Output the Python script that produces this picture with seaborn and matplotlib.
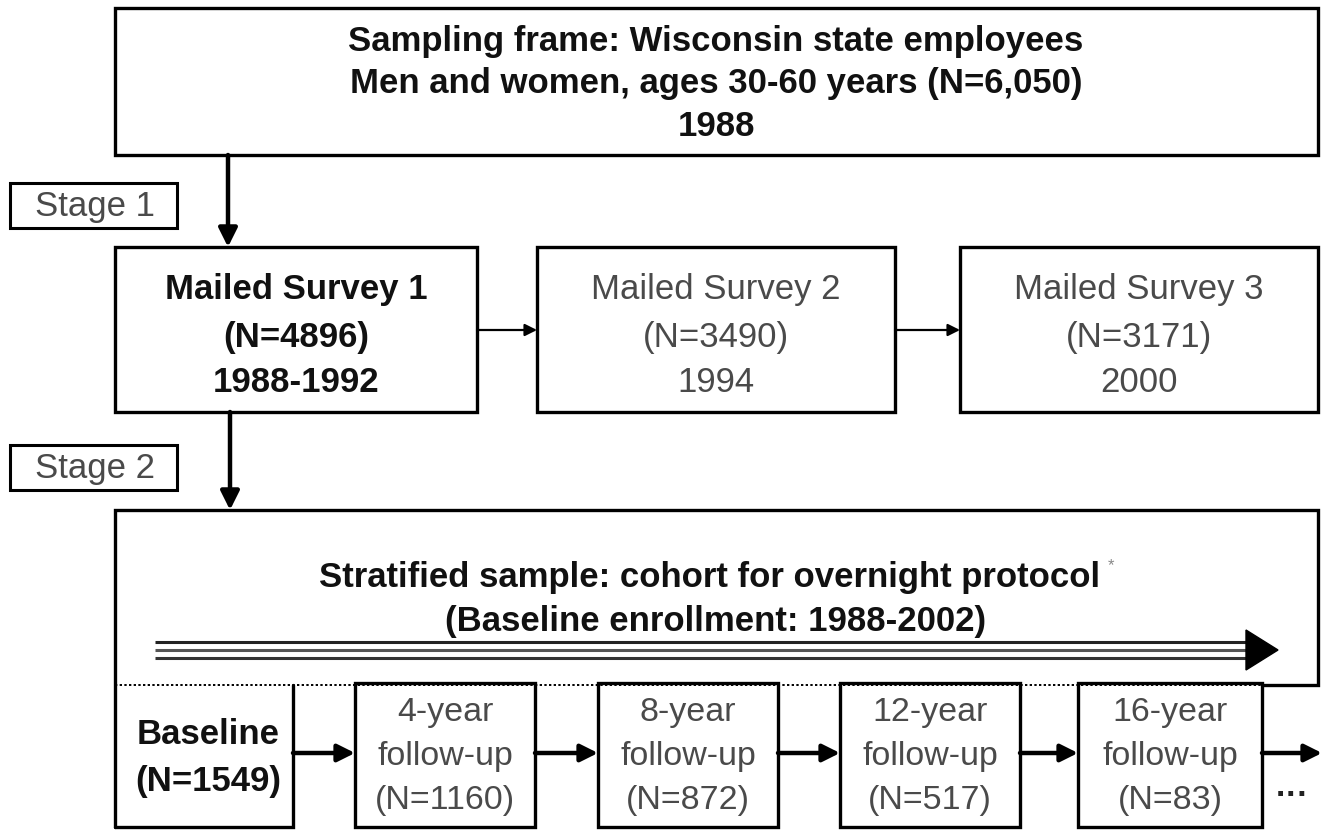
import matplotlib
matplotlib.use("Agg")
import matplotlib.pyplot as plt
import seaborn as sns
from matplotlib.patches import Rectangle, Polygon

# flowchart content
frame_lines = ["Sampling frame: Wisconsin state employees",
               "Men and women, ages 30-60 years (N=6,050)",
               "1988"]
stage_labels = ["Stage 1", "Stage 2"]
survey_names = ["Mailed Survey 1", "Mailed Survey 2", "Mailed Survey 3"]
survey_n = [4896, 3490, 3171]
survey_years = ["1988-1992", "1994", "2000"]
cohort_lines = ["Stratified sample: cohort for overnight protocol",
                "(Baseline enrollment: 1988-2002)"]
visit_labels = ["Baseline", "4-year", "8-year", "12-year", "16-year"]
visit_n = [1549, 1160, 872, 517, 83]

sns.set_theme(style="white")
plt.rcParams["font.family"] = ["Liberation Sans", "DejaVu Sans"]

fig = plt.figure(figsize=(13.29, 8.31), dpi=100)
ax = fig.add_axes([0, 0, 1, 1])
ax.set_xlim(0, 1329)
ax.set_ylim(831, 0)
ax.axis("off")

LW = 2.4
FS = 25
FS_SMALL = 24.5
GRAY = "#4a4a4a"
DARK = "#111111"


def box(x0, y0, x1, y1, lw=LW):
    ax.add_patch(Rectangle((x0, y0), x1 - x0, y1 - y0, fill=False,
                           edgecolor="black", lw=lw, zorder=2))


def arrow(x0, y0, x1, y1, lw=3.2, ms=28):
    ax.annotate("", xy=(x1, y1), xytext=(x0, y0),
                arrowprops=dict(arrowstyle="-|>", lw=lw, color="black",
                                mutation_scale=ms, shrinkA=0, shrinkB=0),
                zorder=3)


# top box
box(115, 8, 1318, 155)
for line, y in zip(frame_lines, [42, 84, 127]):
    ax.text(716, y, line, ha="center", va="center", fontsize=FS,
            fontweight="bold", color=DARK)

# stage boxes
for lab, (y0, y1) in zip(stage_labels, [(183, 228), (445, 490)]):
    box(10, y0, 177, y1, lw=2.2)
    ax.text(95, (y0 + y1) / 2 + 1, lab, ha="center", va="center",
            fontsize=FS, color=GRAY)

arrow(228, 155, 228, 247)
arrow(230, 412, 230, 510)

# mailed surveys
survey_x = [(115, 477), (537, 895), (960, 1318)]
for i, ((x0, x1), name, n, yr) in enumerate(zip(survey_x, survey_names,
                                               survey_n, survey_years)):
    box(x0, 247, x1, 412)
    bold = i == 0
    col = DARK if bold else GRAY
    fw = "bold" if bold else "normal"
    cx = (x0 + x1) / 2
    for txt, y in zip([name, f"(N={n})", yr], [290, 337, 383]):
        ax.text(cx, y, txt, ha="center", va="center", fontsize=FS,
                fontweight=fw, color=col)
    if i > 0:
        arrow(survey_x[i - 1][1], 330, x0, 330, lw=1.6, ms=18)

# cohort box: left, top, right edges
ax.plot([115, 115, 1318, 1318, 1262], [827, 510, 510, 685, 685],
        color="black", lw=LW, solid_joinstyle="miter", zorder=2)
ax.plot([115, 1262], [685, 685], color="black", lw=1.4,
        linestyle=(0, (1.2, 1.2)), zorder=2)
ax.text(710, 578, cohort_lines[0], ha="center", va="center",
        fontsize=FS, fontweight="bold", color=DARK)
ax.text(1111, 566, "*", ha="center", va="center", fontsize=12,
        color="#888888")
ax.text(716, 622, cohort_lines[1], ha="center", va="center",
        fontsize=FS, fontweight="bold", color=DARK)

# triple line time arrow
for y, c in zip([642, 650, 658], ["#222222", "#555555", "#333333"]):
    ax.plot([155, 1250], [y, y], color=c, lw=2.2, zorder=3,
            solid_capstyle="butt")
ax.add_patch(Polygon([[1246, 630], [1278, 650], [1246, 670]],
                     closed=True, color="black", zorder=4))

# visit boxes
visit_x = [(115, 293), (355, 535), (598, 778), (840, 1020), (1078, 1262)]
for i, ((x0, x1), lab, n) in enumerate(zip(visit_x, visit_labels, visit_n)):
    cx = (x0 + x1) / 2
    if i == 0:
        ax.plot([115, 293, 293], [827, 827, 685], color="black", lw=LW,
                solid_joinstyle="miter", zorder=2)
        ax.text(cx + 4, 735, lab, ha="center", va="center", fontsize=FS,
                fontweight="bold", color=DARK)
        ax.text(cx + 4, 782, f"(N={n})", ha="center", va="center",
                fontsize=FS, fontweight="bold", color=DARK)
    else:
        box(x0, 683, x1, 827)
        for txt, y in zip([lab, "follow-up", f"(N={n})"], [713, 757, 800]):
            ax.text(cx, y, txt, ha="center", va="center", fontsize=FS_SMALL,
                    color=GRAY)
        arrow(visit_x[i - 1][1], 753, x0, 753, lw=3.2, ms=26)

arrow(1262, 753, 1322, 753, lw=3.2, ms=26)
ax.text(1292, 796, "\u00b7\u00b7\u00b7", ha="center", va="center",
        fontsize=24, fontweight="bold", color="#222222")

fig.savefig("out.png", dpi=100, facecolor="white")
